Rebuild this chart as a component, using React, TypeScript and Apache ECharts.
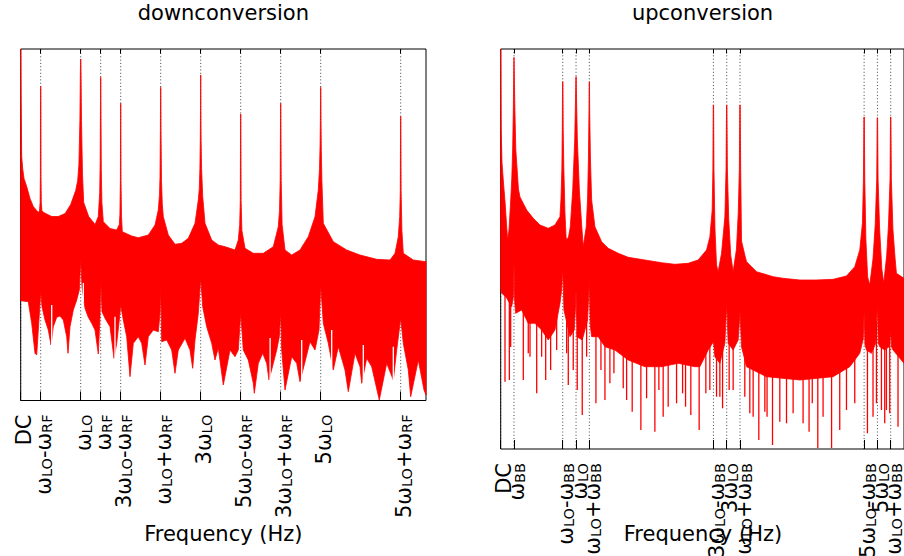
import React, { useEffect, useRef } from 'react';
import * as echarts from 'echarts';

const FONT = 'DejaVu Sans';

// ---------- tick positions (frequency units) and labels ----------
const downTicks = [0, 1, 3, 4, 5, 7, 9, 11, 13, 15, 19];
const downLabels = ['DC', 'ω_{LO}-ω_{RF}', 'ω_{LO}', 'ω_{RF}', '3ω_{LO}-ω_{RF}', 'ω_{LO}+ω_{RF}', '3ω_{LO}', '5ω_{LO}-ω_{RF}', '3ω_{LO}+ω_{RF}', '5ω_{LO}', '5ω_{LO}+ω_{RF}'];
const upTicks = [0, 3, 14, 17, 20, 48, 51, 54, 82, 85, 88];
const upLabels = ['DC', 'ω_{BB}', 'ω_{LO}-ω_{BB}', 'ω_{LO}', 'ω_{LO}+ω_{BB}', '3ω_{LO}-ω_{BB}', '3ω_{LO}', '3ω_{LO}+ω_{BB}', '5ω_{LO}-ω_{BB}', '5ω_{LO}', '5ω_{LO}+ω_{BB}'];

const DOWN_XMAX = 20.265;
const UP_XMAX = 91.0;
const DOWN_YMAX = 175.75;
const UP_YMAX = 200;

// ---------- downconversion spectrum: upper & lower envelope [f, dB] ----------
const downUpper: [number, number][] = [
  [0, 175.75], [0.02, 150], [0.05, 122], [0.1, 116], [0.165, 111], [0.3, 107], [0.465, 101], [0.63, 97], [0.88, 94],
  [0.94, 95], [0.97, 99], [0.985, 112], [0.99, 150], [0.995, 157], [1.005, 157], [1.01, 150], [1.015, 112], [1.03, 99], [1.06, 95],
  [1.15, 94], [1.55, 92], [1.88, 92], [2.22, 93.5], [2.5, 98], [2.75, 105], [2.85, 110], [2.91, 118], [2.96, 140], [2.985, 165],
  [2.995, 170.75], [3.005, 170.75], [3.015, 165], [3.04, 140], [3.09, 113], [3.15, 99], [3.4, 92], [3.72, 88], [3.88, 92],
  [3.95, 104], [3.975, 120], [3.99, 150], [3.995, 161.6], [4.005, 161.6], [4.01, 150], [4.03, 115], [4.06, 99], [4.13, 89.4],
  [4.465, 86], [4.8, 85.25], [4.93, 88], [4.96, 93], [4.985, 110], [4.995, 148.6], [5.005, 148.6], [5.015, 110], [5.04, 92], [5.08, 84.4],
  [5.55, 82.25], [5.88, 81.4], [6.38, 82.75], [6.715, 87.75], [6.88, 95.25], [6.94, 103], [6.965, 112], [6.985, 135], [6.995, 156.6],
  [7.005, 156.6], [7.015, 135], [7.04, 110], [7.08, 98], [7.13, 91.9], [7.38, 82.75], [7.715, 78.1], [8.05, 78.6], [8.38, 81.1],
  [8.715, 88.6], [8.88, 100.25], [8.93, 106], [8.96, 116], [8.98, 130], [8.99, 145], [8.995, 162.75], [9.005, 162.75], [9.01, 145],
  [9.02, 130], [9.045, 116], [9.1, 102], [9.215, 88.6], [9.55, 80.25], [9.88, 77.75], [10.215, 76.9], [10.465, 76.1], [10.715, 75.25],
  [10.88, 80.25], [10.95, 88], [10.98, 100], [10.995, 143.25], [11.005, 143.25], [11.02, 100], [11.06, 85], [11.215, 76.1],
  [11.63, 73.6], [12.13, 73.6], [12.63, 76.9], [12.88, 86.9], [12.94, 95], [12.975, 110], [12.995, 148.6], [13.005, 148.6],
  [13.025, 110], [13.07, 88], [13.215, 75.25], [13.55, 72.75], [13.965, 75.25], [14.38, 81.9], [14.715, 91.9], [14.88, 105.25],
  [14.94, 116], [14.97, 128], [14.985, 140], [14.995, 156.6], [15.005, 156.6], [15.015, 140], [15.03, 125], [15.06, 110], [15.13, 88.6],
  [15.63, 79.4], [16.3, 75.25], [16.965, 72.75], [17.8, 70.6], [18.465, 70.25], [18.715, 73.6], [18.88, 81.9], [18.95, 92],
  [18.98, 105], [18.995, 142.1], [19.005, 142.1], [19.02, 105], [19.06, 85], [19.13, 73.6], [19.63, 70.25], [20.265, 69.4],
];

const downLower: [number, number][] = [
  [0, 49.9], [0.38, 49.4], [0.55, 38.6], [0.715, 23.6], [0.8, 22.75], [0.88, 35.25], [0.965, 48.6], [1.0, 54.4], [1.065, 46.9],
  [1.215, 40.25], [1.38, 35.25], [1.515, 27.75], [1.63, 36.9], [1.8, 41.6], [1.965, 42.25], [2.13, 40.25], [2.3, 31.9], [2.365, 23.6],
  [2.465, 36.9], [2.63, 45.25], [2.8, 50.25], [2.93, 55.25], [3.0, 70.25], [3.065, 56.9], [3.215, 46.1], [3.38, 41.6], [3.55, 38.6],
  [3.715, 35.25], [3.88, 23.25], [3.965, 41.9], [4.0, 60.25], [4.065, 44.4], [4.215, 41.1], [4.465, 36.9], [4.665, 21.1], [4.8, 28.6],
  [4.93, 40.25], [5.0, 47.75], [5.13, 40.25], [5.3, 31.9], [5.465, 11.9], [5.63, 28.6], [5.88, 31.9], [6.05, 28.6], [6.215, 17.75],
  [6.38, 31.9], [6.63, 35.25], [6.88, 34.4], [6.965, 43.6], [7.0, 56.9], [7.05, 29.4], [7.3, 30.25], [7.55, 25.25], [7.715, 13.6],
  [7.88, 25.25], [8.215, 31.1], [8.465, 25.25], [8.6, 16.1], [8.715, 30.25], [8.88, 43.6], [9.0, 61.1], [9.1, 46.9], [9.3, 36.9],
  [9.55, 28.6], [9.715, 20.25], [9.88, 26.25], [10.13, 7.75], [10.465, 25.25], [10.715, 21.9], [10.88, 25.25], [11.0, 43.6],
  [11.13, 25.25], [11.38, 20.25], [11.63, 8.6], [11.68, 3.6], [11.88, 18.6], [12.1, 23.6], [12.3, 18.6], [12.415, 10.25],
  [12.63, 18.6], [12.8, 25.25], [12.93, 31.9], [13.0, 44.4], [13.05, 25.25], [13.215, 5.25], [13.55, 21.9], [13.8, 18.6],
  [13.965, 9.4], [14.465, 29.4], [14.715, 25.25], [14.915, 35.25], [15.0, 57.75], [15.13, 38.6], [15.38, 28.6], [15.63, 15.25],
  [15.88, 26.9], [16.215, 15.25], [16.38, 4.4], [16.715, 23.6], [16.965, 16.9], [17.05, 8.6], [17.3, 21.1], [17.55, 16.9],
  [17.93, 0.25], [18.3, 18.6], [18.63, 10.25], [18.8, 25.25], [19.0, 41.1], [19.13, 28.6], [19.38, 15.25], [19.5, 1.9],
  [19.88, 20.25], [20.165, 5.25], [20.265, 2.75],
];

// thin gaps (white needles) reaching up into the red band: [f, tip dB]
const downGaps: [number, number][] = [
  [1.55, 47.75], [3.13, 58.75], [4.715, 41.9], [12.47, 31.25], [14.05, 30.25], [15.55, 35.25], [17.13, 27.75], [18.63, 26.9],
];

// ---------- upconversion spectrum ----------
const upUpper: [number, number][] = [
  [0, 200], [0.1, 160], [0.3, 143], [0.6, 134], [1.0, 123], [1.35, 111], [1.58, 104.5], [1.87, 109.5], [2.2, 122], [2.5, 135],
  [2.7, 150], [2.85, 170], [2.95, 190], [3.0, 195.85], [3.05, 190], [3.2, 170], [3.4, 150], [3.7, 140], [4.0, 130], [4.35, 126],
  [5.86, 119.5], [7.35, 115.35], [8.86, 112], [10.73, 110.35], [12.24, 112], [13.37, 116.15], [13.6, 125], [13.8, 140], [13.9, 160],
  [13.96, 183.65], [14.04, 183.65], [14.1, 160], [14.25, 140], [14.5, 118], [14.75, 106], [14.88, 104.5], [15.3, 106], [15.7, 111],
  [16.25, 129.5], [16.7, 154.5], [16.93, 180], [16.97, 186.15], [17.03, 186.15], [17.07, 180], [17.3, 154.5], [17.75, 129.5],
  [18.3, 111], [18.62, 101.15], [19.3, 111], [19.6, 125], [19.8, 145], [19.93, 170], [19.97, 183.65], [20.03, 183.65], [20.07, 170],
  [20.25, 145], [20.52, 124.5], [21.26, 111.15], [22.77, 103.65], [24.26, 100.35], [26.52, 97.85], [28.77, 95.85], [32.54, 94.5],
  [36.3, 93.15], [39.3, 92.35], [42.3, 92.85], [44.55, 94.5], [46.45, 99.5], [47.2, 106.15], [47.72, 119.5], [47.88, 140],
  [47.96, 172], [48.04, 172], [48.12, 140], [48.35, 110], [48.7, 92], [49.06, 88.65], [49.83, 97.85], [50.58, 116], [50.85, 140],
  [50.96, 172], [51.04, 172], [51.15, 140], [51.45, 115], [51.9, 97], [52.45, 88.65], [53.2, 100], [53.6, 118], [53.85, 140],
  [53.96, 172], [54.04, 172], [54.15, 140], [54.34, 104], [55.08, 97], [55.47, 93.65], [57.72, 88.65], [61.47, 86.15], [63.72, 85.35],
  [67.49, 84.5], [71.25, 84.5], [75, 84.85], [78.02, 86.5], [79.89, 91.15], [81.02, 99.5], [81.62, 112.85], [81.85, 135],
  [81.96, 166], [82.04, 166], [82.15, 135], [82.4, 105], [82.8, 86], [83.27, 82], [84.0, 95], [84.5, 112], [84.85, 135],
  [84.96, 165.65], [85.04, 165.65], [85.15, 135], [85.5, 110], [86.0, 90], [86.43, 82.85], [87.1, 97], [87.5, 112], [87.85, 135],
  [87.96, 166], [88.04, 166], [88.15, 135], [88.5, 110], [89.0, 95], [89.29, 87.85], [91, 85.35],
];

const upLower: [number, number][] = [
  [0, 80], [0.23, 77.85], [1.2, 76], [2.48, 71.15], [2.85, 76], [3.0, 93.65], [3.15, 74], [3.38, 67.85], [4.73, 69.5],
  [6.22, 62.85], [7.73, 62.85], [9.24, 59.5], [10.73, 54.5], [12.24, 59.5], [13.37, 72.85], [13.75, 79.5], [14.0, 90.35],
  [14.27, 69.5], [15.63, 56.15], [16.6, 59.5], [16.85, 70], [17.0, 79.5], [17.2, 56.15], [18.4, 54.5], [19.6, 64.5], [20.0, 83.65],
  [20.2, 62], [20.52, 56.15], [22, 56.15], [23.52, 51.15], [25.77, 49.5], [28.77, 44.5], [32.54, 41.15], [36.3, 41.15],
  [40.05, 42.85], [43.81, 41.15], [44.94, 41.15], [46.81, 49.5], [47.8, 52.85], [48.0, 54], [48.32, 46.15], [49.45, 42.85],
  [50.58, 52.85], [51.0, 72.85], [51.32, 52.85], [52.45, 49.5], [53.58, 54.5], [54.0, 68.65], [54.34, 51.15], [55.47, 41.15],
  [59.98, 36.15], [67.49, 34.5], [75, 36.15], [78.76, 41.15], [81.02, 47.85], [81.8, 55], [82.0, 68.65], [82.2, 52], [82.53, 49.5],
  [83.65, 47.85], [84.62, 52.85], [85.0, 72], [85.2, 53], [85.52, 51.15], [86.65, 49.5], [87.62, 51.15], [88.0, 58.65], [88.2, 51],
  [88.52, 49.5], [91, 42.85],
];

// narrow downward spikes below the band: [f, tip dB]
const upSpikes: [number, number][] = [
  [0.97, 33.65], [1.95, 34.5], [2.25, 51], [5.1, 34.5], [6.22, 47.85], [6.61, 46.15], [8.12, 27.85], [9.24, 46.15], [10.15, 34.5],
  [11.27, 39.5], [12.63, 49.5], [14.88, 47.85], [15.25, 32], [16.37, 39.5], [17.27, 29.5], [18.4, 17], [19.39, 46.15],
  [21.49, 22.85], [22.62, 39.5], [23.52, 24.5], [24.64, 32.85], [25.55, 37.85], [27.65, 30.35], [28.41, 24.5], [29.67, 18.65],
  [31.63, 9.5], [32.92, 25.35], [34.79, 8.65], [35.69, 29.5], [36.66, 16.15], [37.79, 21.15], [39.68, 22.85], [41.04, 27.85],
  [41.71, 21.15], [42.9, 17], [44.78, 9.5], [46.29, 27.85], [47.19, 29.5], [48.7, 26.15], [49.45, 26.15], [50.06, 20.35],
  [51.55, 29.5], [52.45, 29.5], [55.08, 26.15], [56.21, 17.85], [56.96, 16.15], [58.24, 4.5], [59.6, 18.65], [60.1, 16.15],
  [61.33, 2], [62.98, 13.65], [64.49, 12.85], [65.98, 17.85], [68.23, 12.85], [69.58, 8.65], [70.3, 22.85], [71.55, 0.5],
  [72.74, 16.15], [74.66, 0.5], [76.5, 9.5], [78.02, 19.5], [79.89, 22.85], [82.75, 7.85], [84.01, 16.15], [84.78, 22.85],
  [85.91, 19.5], [86.65, 12.85], [87.03, 19.5], [87.78, 17.85], [89.65, 11.15],
];

// ---------- helpers ----------
function interp(arr: [number, number][], f: number): number {
  for (let i = 1; i < arr.length; i++) {
    if (arr[i][0] >= f) {
      const [x0, y0] = arr[i - 1];
      const [x1, y1] = arr[i];
      return y0 + ((y1 - y0) * (f - x0)) / (x1 - x0 || 1);
    }
  }
  return arr[arr.length - 1][1];
}

function toRich(s: string): string {
  const parts = s.split(/_\{([^}]*)\}/);
  return parts.map((p, i) => (p ? (i % 2 ? `{s|${p}}` : `{m|${p}}`) : '')).join('');
}

const rich = {
  m: { fontSize: 21, fontFamily: FONT, fill: '#000', color: '#000', lineHeight: 28, verticalAlign: 'bottom' },
  s: { fontSize: 14.5, fontFamily: FONT, fill: '#000', color: '#000', lineHeight: 16, verticalAlign: 'bottom' },
};

function makeXAxes(gridIndex: number, max: number, ticks: number[]) {
  const lineStyle = { color: '#000', width: 1 };
  return [
    {
      type: 'value', gridIndex, min: 0, max, position: 'bottom',
      axisLine: { show: false }, splitLine: { show: false },
      axisTick: { show: true, inside: true, length: 9, customValues: ticks, lineStyle },
      axisLabel: { show: false },
    },
    {
      type: 'value', gridIndex, min: 0, max, position: 'top',
      axisLine: { show: false }, splitLine: { show: false },
      axisTick: { show: true, inside: true, length: 4.5, customValues: ticks, lineStyle },
      axisLabel: { show: false },
    },
  ];
}

function gridLineSeries(xAxisIndex: number, yAxisIndex: number, ticks: number[], ymax: number) {
  return {
    type: 'custom', xAxisIndex, yAxisIndex, z: 1, silent: true,
    data: ticks.map((t) => [t, 0]),
    renderItem: (_p: any, api: any) => {
      const x = api.value(0);
      const a = api.coord([x, 0]);
      const b = api.coord([x, ymax]);
      return {
        type: 'line',
        shape: { x1: a[0], y1: a[1], x2: b[0], y2: b[1] },
        style: { stroke: '#000', lineWidth: 1, lineDash: [1, 2.3], opacity: 0.75 },
      };
    },
  };
}

function tickLabelSeries(xAxisIndex: number, yAxisIndex: number, ticks: number[], labels: string[]) {
  return {
    type: 'custom', xAxisIndex, yAxisIndex, z: 5, silent: true, clip: false,
    data: ticks.map((t, i) => [t, 0, i]),
    renderItem: (_p: any, api: any) => {
      const x = api.value(0);
      const idx = api.value(2);
      const a = api.coord([x, 0]);
      return {
        type: 'text',
        x: a[0],
        y: a[1] + 14,
        rotation: Math.PI / 2,
        style: {
          text: toRich(labels[idx]),
          rich,
          fontSize: 21,
          fontFamily: FONT,
          fill: '#000',
          align: 'right',
          verticalAlign: 'middle',
        },
      };
    },
  };
}

function bandSeries(xAxisIndex: number, yAxisIndex: number, upper: [number, number][], lower: [number, number][]) {
  return {
    type: 'custom', xAxisIndex, yAxisIndex, z: 2, silent: true,
    data: [[0, 0]],
    renderItem: (_p: any, api: any) => {
      const pts = upper.map((p) => api.coord(p)).concat(lower.slice().reverse().map((p) => api.coord(p)));
      return {
        type: 'polygon',
        shape: { points: pts },
        style: { fill: '#ff0000', stroke: '#ff0000', lineWidth: 0.8, lineJoin: 'round' },
      };
    },
  };
}

function needleSeries(xAxisIndex: number, yAxisIndex: number, items: [number, number][], lower: [number, number][], color: string, dir: number) {
  return {
    type: 'custom', xAxisIndex, yAxisIndex, z: 3, silent: true,
    data: items,
    renderItem: (_p: any, api: any) => {
      const f = api.value(0);
      const tip = api.value(1);
      const base = interp(lower, f) + dir * 3;
      const a = api.coord([f, tip]);
      const b = api.coord([f, base]);
      return {
        type: 'line',
        shape: { x1: a[0], y1: a[1], x2: b[0], y2: b[1] },
        style: { stroke: color, lineWidth: 1.3 },
      };
    },
  };
}

export default function App() {
  const ref = useRef<HTMLDivElement>(null);
  useEffect(() => {
    if (!ref.current) return;
    const chart = echarts.init(ref.current, undefined, { renderer: 'svg' });
    const textStyle = { fontSize: 21, fontFamily: FONT, fill: '#000', textAlign: 'center', textVerticalAlign: 'middle', align: 'center', verticalAlign: 'middle' };
    chart.setOption({
      animation: false,
      backgroundColor: '#fff',
      grid: [
        { left: 20.7, top: 49, width: 405.3, height: 351.5, show: true, borderColor: '#000', borderWidth: 1, backgroundColor: 'transparent' },
        { left: 500.7, top: 49, width: 403.6, height: 400, show: true, borderColor: '#000', borderWidth: 1, backgroundColor: 'transparent' },
      ],
      xAxis: [
        ...makeXAxes(0, DOWN_XMAX, downTicks),
        ...makeXAxes(1, UP_XMAX, upTicks),
      ],
      yAxis: [
        { type: 'value', gridIndex: 0, min: 0, max: DOWN_YMAX, show: false, splitLine: { show: false } },
        { type: 'value', gridIndex: 1, min: 0, max: UP_YMAX, show: false, splitLine: { show: false } },
      ],
      graphic: [
        { type: 'text', x: 223.35, y: 13.4, style: { ...textStyle, text: 'downconversion' } },
        { type: 'text', x: 702.5, y: 13.4, style: { ...textStyle, text: 'upconversion' } },
        { type: 'text', x: 223.35, y: 534, style: { ...textStyle, text: 'Frequency (Hz)' } },
        { type: 'text', x: 703, y: 534, style: { ...textStyle, text: 'Frequency (Hz)' } },
      ],
      series: [
        gridLineSeries(0, 0, downTicks, DOWN_YMAX),
        bandSeries(0, 0, downUpper, downLower),
        needleSeries(0, 0, downGaps, downLower, '#ffffff', -1),
        tickLabelSeries(0, 0, downTicks, downLabels),
        gridLineSeries(2, 1, upTicks, UP_YMAX),
        bandSeries(2, 1, upUpper, upLower),
        needleSeries(2, 1, upSpikes, upLower, '#ff0000', 1),
        tickLabelSeries(2, 1, upTicks, upLabels),
      ],
    });
    return () => chart.dispose();
  }, []);
  return <div ref={ref} style={{ position: 'fixed', left: 0, top: 0, width: 904, height: 556 }} />;
}
